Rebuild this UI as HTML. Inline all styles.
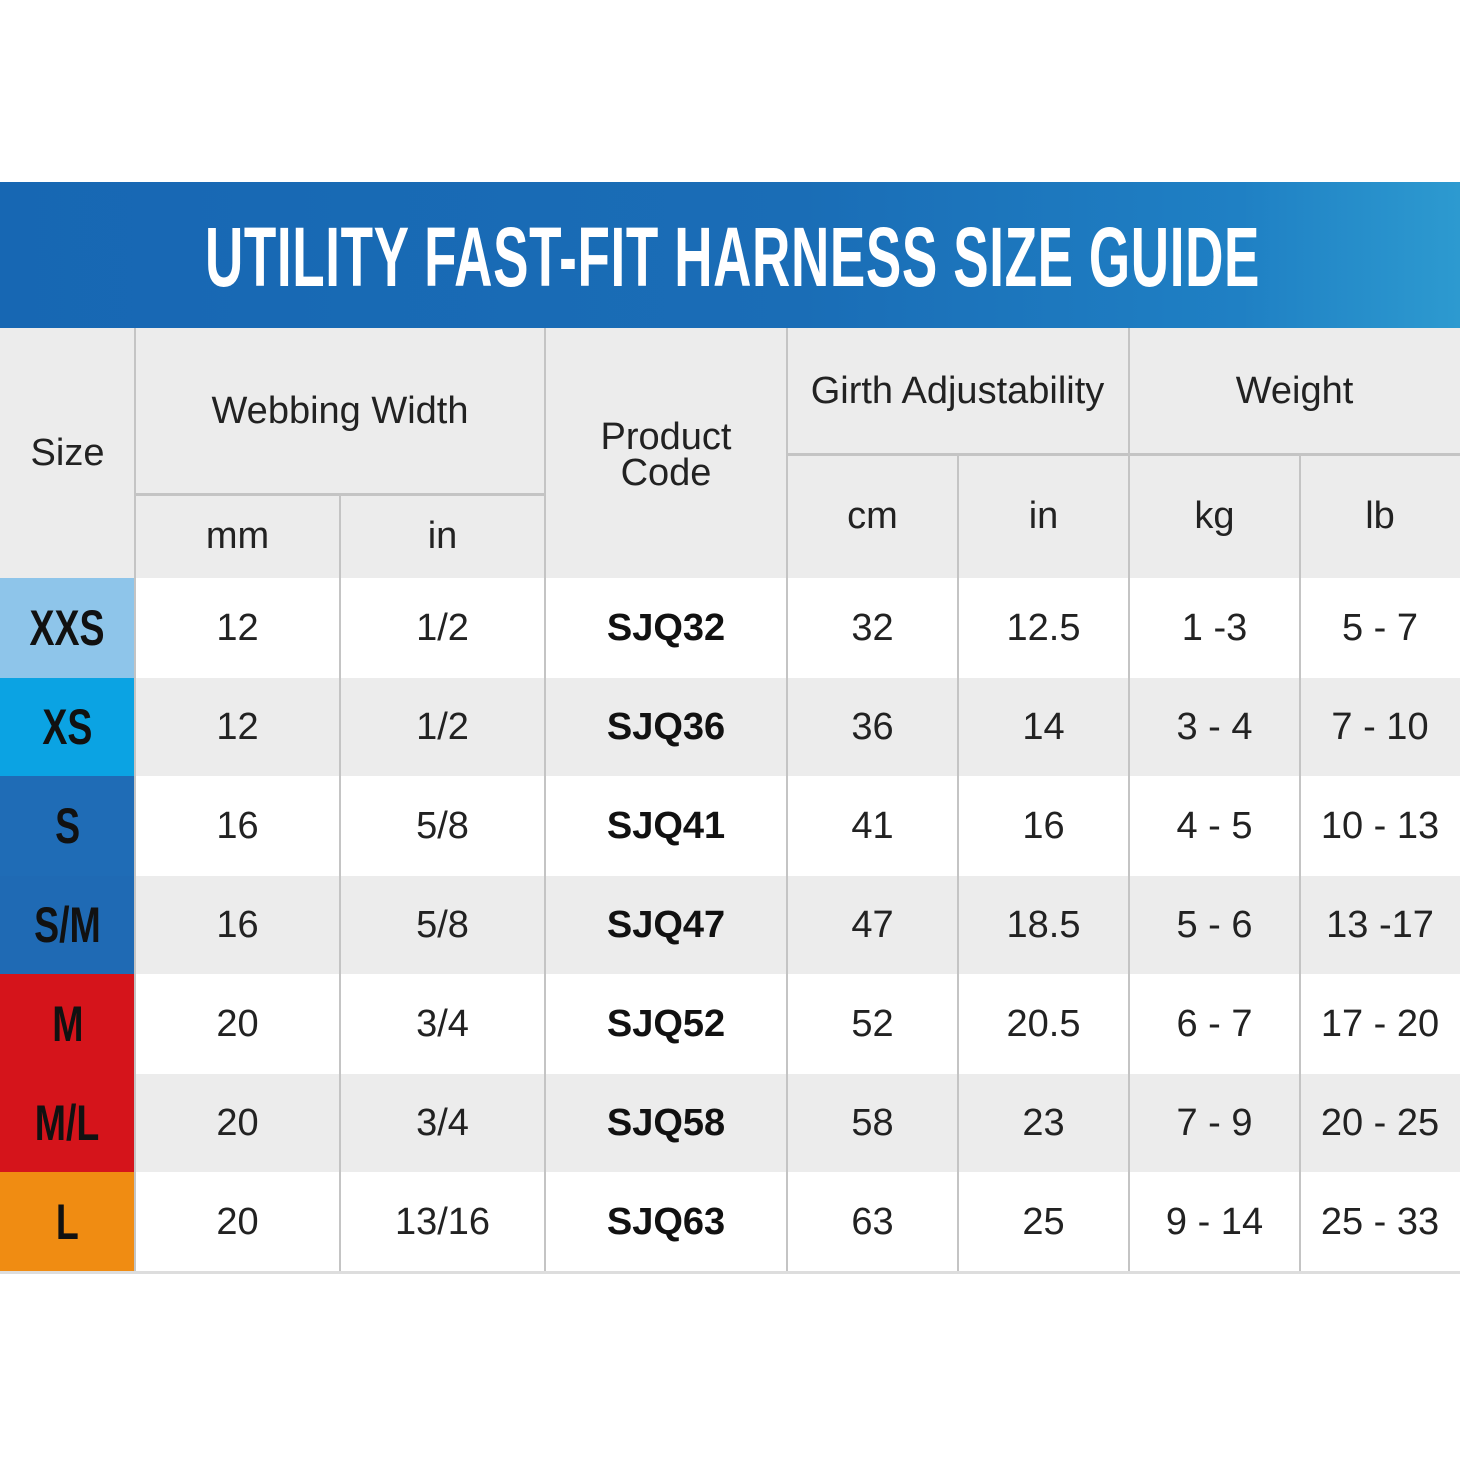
<!DOCTYPE html>
<html><head><meta charset="utf-8"><style>
body{margin:0;width:1460px;height:1460px;background:#fff;position:relative;overflow:hidden;font-family:"Liberation Sans",sans-serif}
.a{position:absolute;box-sizing:border-box}
.banner{left:0;top:182px;width:1460px;height:146px;background:linear-gradient(90deg,#1767b3 0%,#1a6db6 55%,#1f80c4 85%,#2d9ad0 100%)}
.title{position:absolute;left:205px;top:212px;width:1055px;height:90px;color:#fff;font-weight:bold;font-size:84px;line-height:90px;white-space:nowrap;transform-origin:left center;font-family:"Liberation Sans Narrow","Liberation Sans",sans-serif;letter-spacing:1px}
.t{position:absolute;text-align:center;color:#222;font-size:38px;display:flex;align-items:center;justify-content:center;box-sizing:border-box}
.sz{color:#111;font-weight:bold;font-size:50px;font-family:"Liberation Sans Narrow","Liberation Sans",sans-serif;transform:scaleX(0.75)}
.v{line-height:1}
.b{font-weight:bold;color:#111}
.vl{position:absolute;width:2px;background:#c4c4c4}
.hl{position:absolute;height:3px;background:#c4c4c4}
</style></head><body>
<div class="a banner"></div>
<div class="title" id="tt">UTILITY FAST-FIT HARNESS SIZE GUIDE</div>
<div class="a" style="left:0;top:328px;width:1460px;height:250px;background:#ececec"></div>
<div class="a" style="left:135px;top:678px;width:1325px;height:98px;background:#ececec"></div>
<div class="a" style="left:135px;top:876px;width:1325px;height:98px;background:#ececec"></div>
<div class="a" style="left:135px;top:1074px;width:1325px;height:98px;background:#ececec"></div>
<div class="a" style="left:0;top:578px;width:135px;height:100px;background:#8ec5ea"></div>
<div class="a" style="left:0;top:678px;width:135px;height:98px;background:#0ba3e3"></div>
<div class="a" style="left:0;top:776px;width:135px;height:100px;background:#1f6cb6"></div>
<div class="a" style="left:0;top:876px;width:135px;height:98px;background:#1f6ab4"></div>
<div class="a" style="left:0;top:974px;width:135px;height:100px;background:#d5141b"></div>
<div class="a" style="left:0;top:1074px;width:135px;height:98px;background:#d5141b"></div>
<div class="a" style="left:0;top:1172px;width:135px;height:100px;background:#f08c12"></div>
<div class="vl" style="left:134px;top:328px;height:944px"></div>
<div class="vl" style="left:339px;top:495px;height:777px"></div>
<div class="vl" style="left:544px;top:328px;height:944px"></div>
<div class="vl" style="left:786px;top:328px;height:944px"></div>
<div class="vl" style="left:957px;top:455px;height:817px"></div>
<div class="vl" style="left:1128px;top:328px;height:944px"></div>
<div class="vl" style="left:1299px;top:455px;height:817px"></div>
<div class="hl" style="left:135px;top:493px;width:410px"></div>
<div class="hl" style="left:787px;top:453px;width:673px"></div>
<div class="hl" style="left:0;top:1271px;width:1460px;height:3px;background:#ddd"></div>
<div class="t" style="left:0;top:328px;width:135px;height:250px">Size</div>
<div class="t" style="left:135px;top:328px;width:410px;height:167px">Webbing Width</div>
<div class="t" style="left:135px;top:495px;width:205px;height:83px">mm</div>
<div class="t" style="left:340px;top:495px;width:205px;height:83px">in</div>
<div class="t" style="left:545px;top:328px;width:242px;height:250px;line-height:0.95;padding-top:4px">Product<br>Code</div>
<div class="t" style="left:787px;top:328px;width:341px;height:127px">Girth Adjustability</div>
<div class="t" style="left:1129px;top:328px;width:331px;height:127px">Weight</div>
<div class="t" style="left:787px;top:455px;width:171px;height:123px">cm</div>
<div class="t" style="left:958px;top:455px;width:171px;height:123px">in</div>
<div class="t" style="left:1129px;top:455px;width:171px;height:123px">kg</div>
<div class="t" style="left:1300px;top:455px;width:160px;height:123px">lb</div>
<div id="rows"></div>
<script>
var d=[["XXS","12","1/2","SJQ32","32","12.5","1 -3","5 - 7"],["XS","12","1/2","SJQ36","36","14","3 - 4","7 - 10"],["S","16","5/8","SJQ41","41","16","4 - 5","10 - 13"],["S/M","16","5/8","SJQ47","47","18.5","5 - 6","13 -17"],["M","20","3/4","SJQ52","52","20.5","6 - 7","17 - 20"],["M/L","20","3/4","SJQ58","58","23","7 - 9","20 - 25"],["L","20","13/16","SJQ63","63","25","9 - 14","25 - 33"]];
var tops=[578,678,776,876,974,1074,1172,1272];
var xs=[0,135,340,545,787,958,1129,1300,1460];
var h="";
d.forEach(function(r,i){r.forEach(function(c,j){var cls=j==0?"sz":(j==3?"b":"");
h+='<div class="t" style="left:'+xs[j]+'px;top:'+tops[i]+'px;width:'+(xs[j+1]-xs[j])+'px;height:'+(tops[i+1]-tops[i])+'px"><span class="v '+cls+'" style="display:inline-block">'+c+'</span></div>';});});
document.getElementById("rows").innerHTML=h;
var t=document.getElementById("tt");var s=document.createElement("span");s.textContent=t.textContent;t.textContent="";t.appendChild(s);
var w=s.getBoundingClientRect().width;t.style.transform="scaleX("+(1055/w)+")";
</script>
</body></html>
